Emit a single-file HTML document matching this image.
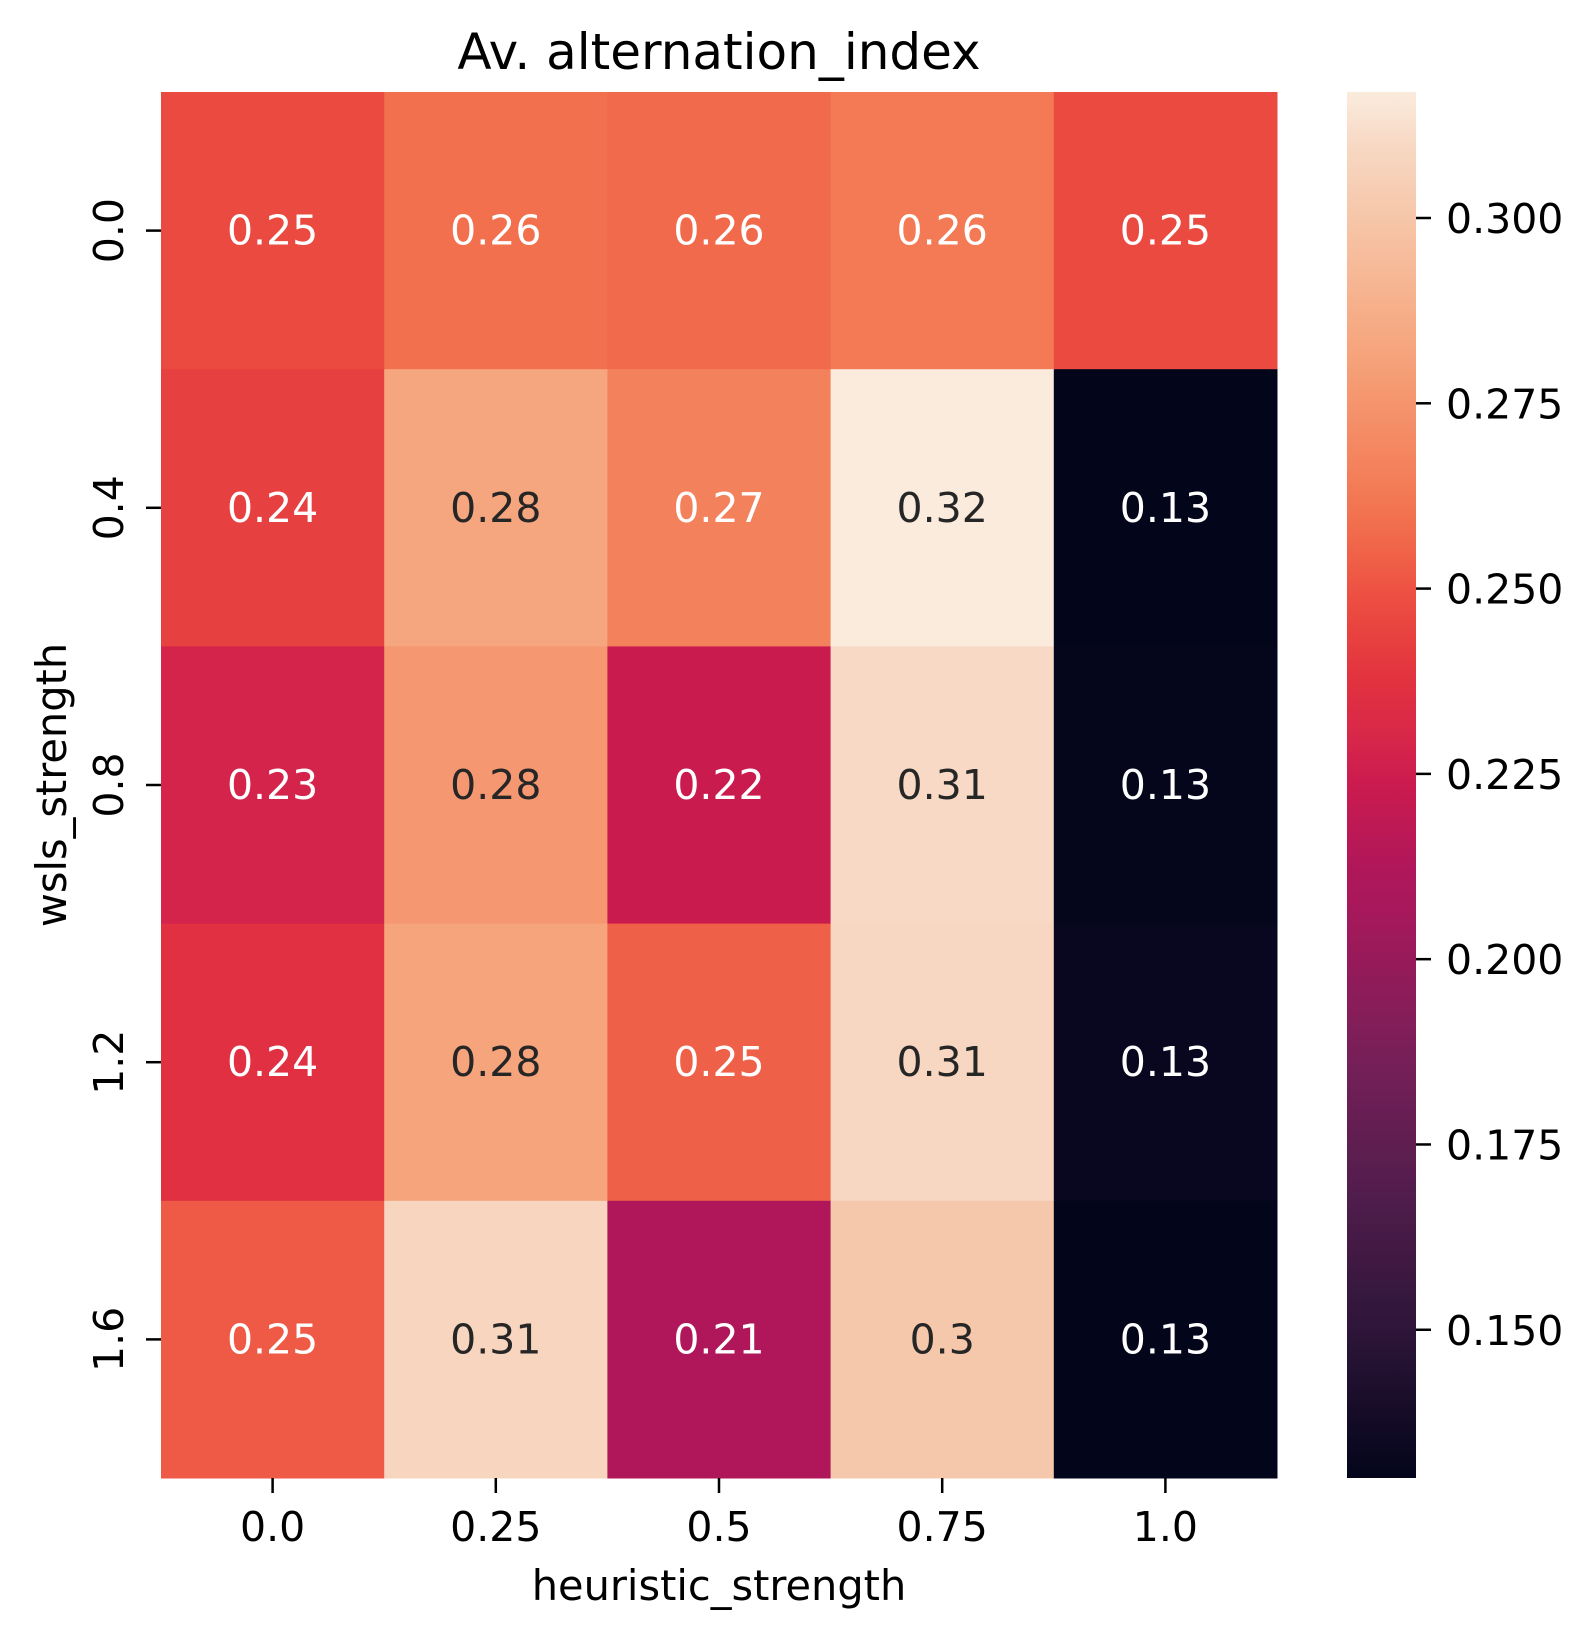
<!DOCTYPE html>
<html><head><meta charset="utf-8">
<style>
html,body{margin:0;padding:0;background:#fff;}
svg{display:block;font-family:"DejaVu Sans","Liberation Sans",sans-serif;}
</style></head>
<body>
<svg id="chart" width="1594" height="1639" viewBox="0 0 1594 1639" xmlns="http://www.w3.org/2000/svg">
<defs>
<linearGradient id="cbgrad" x1="0" y1="1" x2="0" y2="0"></linearGradient>
</defs>
<text x="719" y="69" font-size="50" text-anchor="middle" fill="#000">Av. alternation_index</text>
<text x="719" y="1600" font-size="41.5" text-anchor="middle" fill="#000">heuristic_strength</text>
<text transform="translate(66,785) rotate(-90)" font-size="41.5" text-anchor="middle" fill="#000">wsls_strength</text>
<g id="cells"></g>
<g id="xticks"></g>
<g id="yticks"></g>
<g id="cbar"></g>
</svg>
<script>
const xCategories = ["0.0","0.25","0.5","0.75","1.0"];
const yCategories = ["0.0","0.4","0.8","1.2","1.6"];
const row0 = [0.247,0.259,0.257,0.263,0.247];
const row1 = [0.243,0.283,0.266,0.317,0.130];
const row2 = [0.228,0.276,0.223,0.310,0.131];
const row3 = [0.236,0.282,0.254,0.309,0.133];
const row4 = [0.252,0.308,0.212,0.301,0.130];
const cbTicks = [0.150,0.175,0.200,0.225,0.250,0.275,0.300];
const vmin = 0.130, vmax = 0.317;

const rows=[row0,row1,row2,row3,row4];
const L=161,R=1277,T=92,B=1478;
const cw=(R-L)/xCategories.length, ch=(B-T)/yCategories.length;
const NS="http://www.w3.org/2000/svg";
function hx(h){return [parseInt(h.slice(1,3),16),parseInt(h.slice(3,5),16),parseInt(h.slice(5,7),16)];}
const stops=[[0,"#03051A"],[0.1,"#2B1437"],[0.2,"#4F1D4B"],[0.3,"#761F58"],[0.4,"#A3195B"],[0.44,"#B0175A"],[0.5,"#CB1B4F"],[0.53,"#D6264A"],[0.58,"#E3343F"],[0.626,"#EB4A40"],[0.69,"#F2704D"],[0.72,"#F37E58"],[0.82,"#F6A77F"],[0.91,"#F6C6A9"],[0.96,"#F7D8C3"],[1,"#FAEBDD"]].map(s=>[s[0],hx(s[1])]);
function rocket(t){t=Math.max(0,Math.min(1,t));for(let i=1;i<stops.length;i++){if(t<=stops[i][0]){const a=stops[i-1],b=stops[i];const f=(t-a[0])/(b[0]-a[0]);return a[1].map((v,k)=>Math.round(v+(b[1][k]-v)*f));}}return stops[stops.length-1][1];}
function rgb(c){return "rgb("+c.join(",")+")";}
function lum(c){const l=c.map(v=>{v/=255;return v<=0.03928?v/12.92:Math.pow((v+0.055)/1.055,2.4);});return 0.2126*l[0]+0.7152*l[1]+0.0722*l[2];}
function xPos(i){return L+cw*(i+0.5);}
function yPos(j){return T+ch*(j+0.5);}
function cbY(v){return B-(v-vmin)/(vmax-vmin)*(B-T);}
function mk(tag,attrs,parent){const e=document.createElementNS(NS,tag);for(const k in attrs)e.setAttribute(k,attrs[k]);parent.appendChild(e);return e;}
function fmt(v){return (Math.round(v*100)/100).toString();}

const cells=document.getElementById('cells');
rows.forEach((r,j)=>r.forEach((v,i)=>{
  const c=rocket((v-vmin)/(vmax-vmin));
  const rect=mk('rect',{x:L+cw*i,y:T+ch*j,width:cw+0.5,height:ch+0.5,fill:rgb(c)},cells);
  
  
  const t=mk('text',{x:xPos(i),y:yPos(j)+14,'font-size':41,'text-anchor':'middle',fill:lum(c)>0.408?'#262626':'#ffffff'},cells);
  
  
  t.textContent=fmt(v);
}));

const xt=document.getElementById('xticks');
xCategories.forEach((c,i)=>{
  const ln=mk('line',{x1:xPos(i),x2:xPos(i),y1:B,y2:B+15,stroke:'#000','stroke-width':2.5},xt);
  
  
  const t=mk('text',{x:xPos(i),y:1541,'font-size':41,'text-anchor':'middle',fill:'#000'},xt);
  
  
  t.textContent=c;
});
const yt=document.getElementById('yticks');
yCategories.forEach((c,j)=>{
  const ln=mk('line',{x1:L-15,x2:L,y1:yPos(j),y2:yPos(j),stroke:'#000','stroke-width':2.5},yt);
  
  
  const t=mk('text',{transform:'translate(123,'+yPos(j)+') rotate(-90)','font-size':41,'text-anchor':'middle',fill:'#000'},yt);
  
  
  t.textContent=c;
});

const grad=document.getElementById('cbgrad');
for(let k=0;k<=50;k++){mk('stop',{offset:(k/50),'stop-color':rgb(rocket(k/50))},grad);}
const cb=document.getElementById('cbar');
const bar=mk('rect',{x:1347,y:T,width:69,height:B-T,fill:'url(#cbgrad)'},cb);


cbTicks.forEach(v=>{
  const y=cbY(v);
  const ln=mk('line',{x1:1416,x2:1431,y1:y,y2:y,stroke:'#000','stroke-width':2.5},cb);
  
  
  const t=mk('text',{x:1446,y:y+15,'font-size':41,fill:'#000'},cb);
  
  
  t.textContent=v.toFixed(3);
});
</script>
</body></html>
